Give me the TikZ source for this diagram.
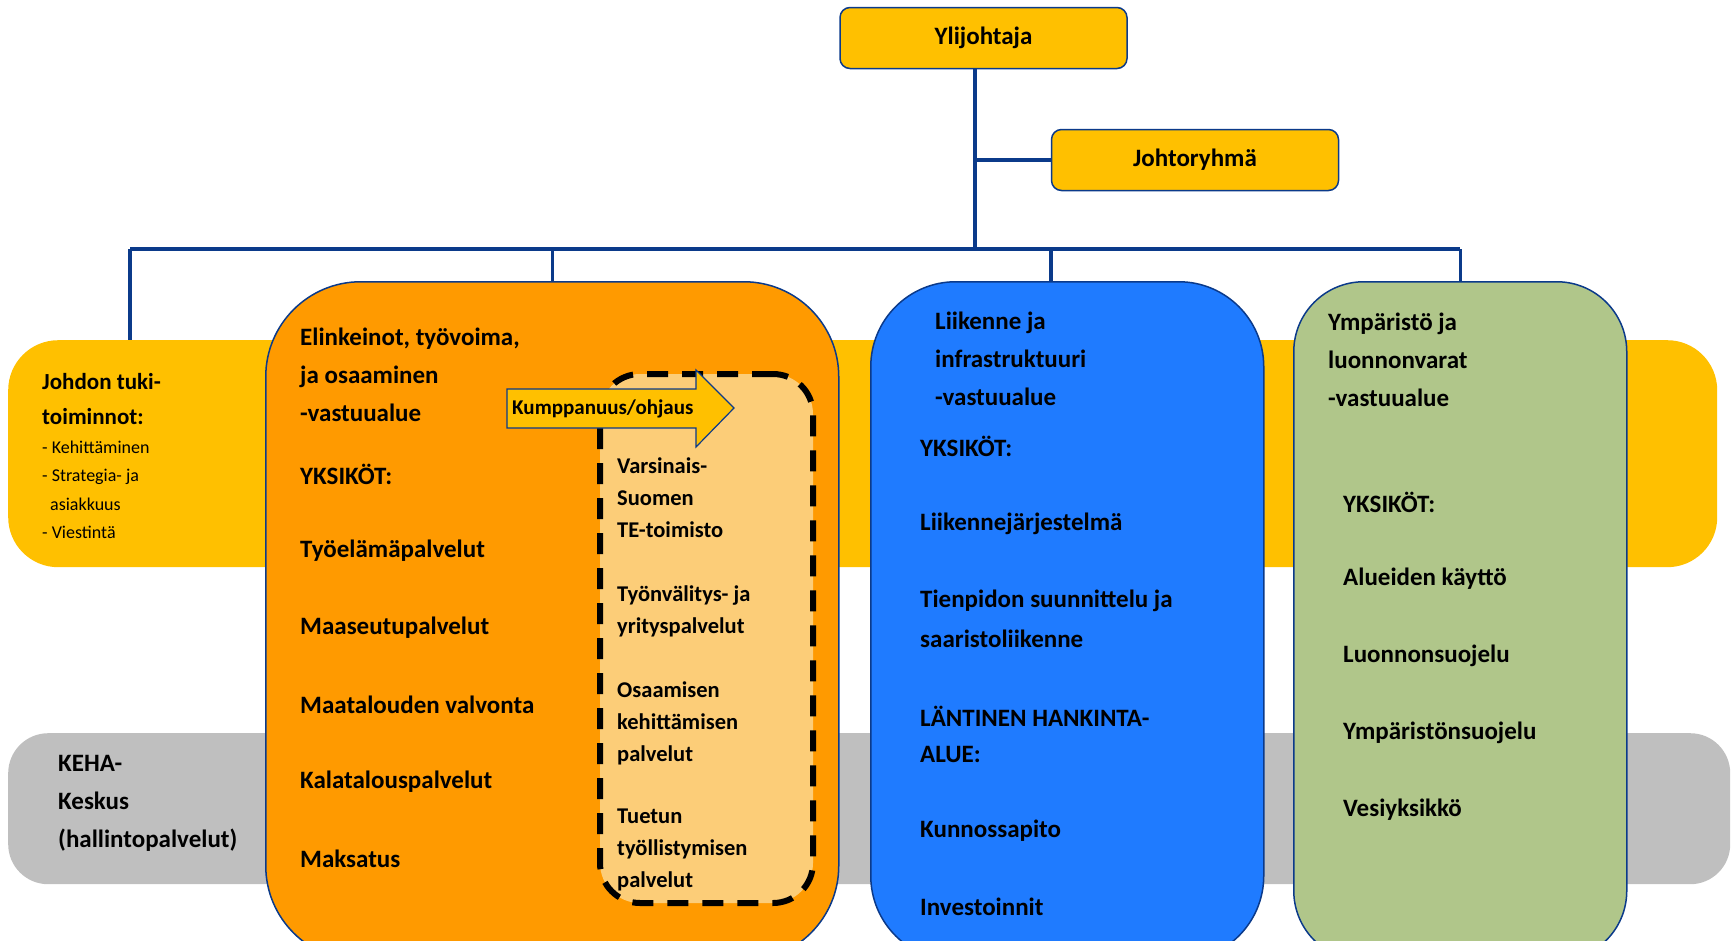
\documentclass[tikz,border=0pt]{standalone}
\usepackage{fontspec}
\setmainfont{Carlito}
\usetikzlibrary{positioning}

\definecolor{keltainen}{HTML}{FFC000}
\definecolor{oranssi}{HTML}{FF9A00}
\definecolor{vaalea}{HTML}{FCCD78}
\definecolor{sininen}{HTML}{1F7BFF}
\definecolor{vihrea}{HTML}{B0C68A}
\definecolor{harmaa}{HTML}{BFBFBF}
\definecolor{viiva}{HTML}{0B3A8A}

\begin{document}
\begin{tikzpicture}[
    x = 1pt, y = -1pt,
    every node/.style = {font = \bfseries},
    band/.style = {anchor = north west, inner sep = 0pt},
    orgbox/.style = {draw = viiva, line width = 1.5pt, rounded corners = 10pt, fill = keltainen,
        minimum width = 287pt, minimum height = 61pt, font = \bfseries\fontsize{25}{30}\selectfont},
    area/.style = {draw = viiva, line width = 1.5pt, anchor = north west, minimum height = 679pt},
    txt/.style = {anchor = west, inner sep = 0pt, align = left, font = \bfseries\fontsize{25}{38}\selectfont},
    tetxt/.style = {txt, font = \bfseries\fontsize{22.5}{32}\selectfont},
    link/.style = {draw = viiva, line width = 3.5pt}]

\useasboundingbox (0,0) rectangle (1736,940);
\clip (0,0) rectangle (1736,940);

% taustakaistat
\node[band, fill = keltainen, rounded corners = 50pt, minimum width = 1709pt, minimum height = 227pt] (tuki) at (8,340) {};
\node[band, fill = harmaa, rounded corners = 40pt, minimum width = 1722pt, minimum height = 151pt] (keha) at (8,733) {};

\node[txt, font = \bfseries\fontsize{23}{35}\selectfont] (tukiotsikko) at (42,399) {Johdon tuki-\\toiminnot:};
\node[txt, font = \fontsize{18}{28.5}\selectfont] (tukilista) at (42,490) {- Kehittäminen\\- Strategia- ja\\\hspace*{8pt}asiakkuus\\- Viestintä};
\node[txt] (kehateksti) at (58,803) {KEHA-\\Keskus\\(hallintopalvelut)};

% vastuualueet
\node[area, fill = oranssi, rounded corners = 95pt, minimum width = 573pt] (elin) at (265,281) {};
\node[area, fill = sininen, rounded corners = 85pt, minimum width = 393pt] (liik) at (870,281) {};
\node[area, fill = vihrea, rounded corners = 70pt, minimum width = 333pt] (ymp) at (1293,281) {};

\node[band, fill = vaalea, draw = black, line width = 6pt, dash pattern = on 21pt off 14pt,
      rounded corners = 40pt, minimum width = 213pt, minimum height = 529pt] (te) at (597,371) {};

\draw[draw = viiva, line width = 1.2pt, fill = keltainen]
    (507,389) -- (696,389) -- (696,370) -- (734,408) -- (696,447) -- (696,428) -- (507,428) -- cycle;
\node[txt, font = \bfseries\fontsize{21}{25}\selectfont] (kump) at (512,409) {Kumppanuus/ohjaus};

\node[txt] (elinotsikko) at (300,375) {Elinkeinot, työvoima,\\ja osaaminen\\-vastuualue};
\foreach \y/\t in {474/YKSIKÖT:, 551/Työelämäpalvelut, 628/Maaseutupalvelut,
                   705/Maatalouden valvonta, 782/Kalatalouspalvelut, 859/Maksatus}
    \node[txt] (elin-\y) at (300,\y) {\t};

\node[tetxt] (te1) at (617,498) {Varsinais-\\Suomen\\TE-toimisto};
\node[tetxt] (te2) at (617,611) {Työnvälitys- ja\\yrityspalvelut};
\node[tetxt] (te3) at (617,723) {Osaamisen\\kehittämisen\\palvelut};
\node[tetxt] (te4) at (617,850) {Tuetun\\työllistymisen\\palvelut};

\node[txt] (liikotsikko) at (935,359) {Liikenne ja\\infrastruktuuri\\-vastuualue};
\foreach \y/\t in {446/YKSIKÖT:, 524/Liikennejärjestelmä, 601/Tienpidon suunnittelu ja,
                   639/saaristoliikenne, 716/LÄNTINEN HANKINTA-, 754/ALUE:,
                   831/Kunnossapito, 907/Investoinnit}
    \node[txt] (liik-\y) at (920,\y) {\t};

\node[txt] (ympotsikko) at (1328,360) {Ympäristö ja\\luonnonvarat\\-vastuualue};
\foreach \y/\t in {502/YKSIKÖT:, 579/Alueiden käyttö, 656/Luonnonsuojelu,
                   733/Ympäristönsuojelu, 810/Vesiyksikkö}
    \node[txt] (ymp-\y) at (1343,\y) {\t};

% johto
\node[orgbox] (yli) at (983.5,38) {Ylijohtaja};
\node[orgbox] (johto) at (1195,160) {Johtoryhmä};

\coordinate (vasen) at (130,249);
\coordinate (oikea) at (1460,249);
\coordinate (runko) at (975,249);
\coordinate (liikpudotus) at (1051,249);

\draw[link] (runko |- yli.south) -- (runko);
\draw[link] (johto.west) -- (johto.west -| runko);
\draw[link] (vasen) -- (oikea);
\draw[link] (vasen) -- (vasen |- tuki.north);
\draw[link] (elin.north |- vasen) -- (elin.north);
\draw[link] (liikpudotus) -- (liikpudotus |- liik.north);
\draw[link] (ymp.north |- vasen) -- (ymp.north);
\end{tikzpicture}
\end{document}
